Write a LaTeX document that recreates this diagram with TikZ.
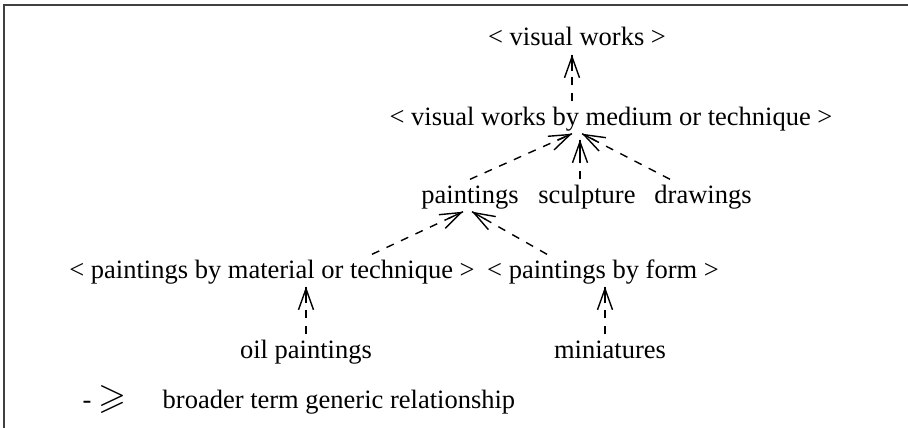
\documentclass[tikz,border=0pt]{standalone}
\usepackage{amssymb}
\usepackage{fontspec}
\setmainfont{Liberation Serif}
\usetikzlibrary{arrows.meta,decorations.markings}

\begin{document}
\begin{tikzpicture}[x=1pt,y=-1pt,line width=1.4pt,
    term/.style={anchor=base, inner xsep=0pt, inner ysep=4pt, text height=19pt, text depth=4pt, font=\fontsize{26.5}{30}\selectfont},
    bt/.style={dash pattern=on 8pt off 8pt, -{Straight Barb[length=21pt,width=15pt,line width=1.4pt]},
        postaction={decorate}, decoration={markings, mark=at position 1 with {\draw[solid,-] (-16pt,0) -- (0,0);}}}]
    \useasboundingbox (0,0) rectangle (908,428);
    \draw[line width=2pt, black!75] (4,428) -- (4,5) -- (908,5);

    \node[term] (vw) at (577,46) {< visual works >};
    \node[term] (vwmt) at (611,125) {< visual works by medium or technique >};
    \node[term] (paint) at (470,203) {paintings};
    \node[term] (sculp) at (587,203) {sculpture};
    \node[term] (drawg) at (703,203) {drawings};
    \node[term] (pmt) at (272,278) {< paintings by material or technique >};
    \node[term] (pbf) at (603,278) {< paintings by form >};
    \node[term] (oil) at (306,358) {oil paintings};
    \node[term] (mini) at (610,358) {miniatures};

    \draw[bt] ([xshift=-5pt]vwmt.north -| vw.south) -- ([xshift=-5pt]vw.south);

    \draw[bt] (paint.north) -- ([xshift=-39pt]vwmt.south);
    \draw[bt] ([xshift=-7pt]sculp.north) -- ([xshift=-7pt,yshift=-6pt]sculp.north |- vwmt.south);
    \draw[bt] ([xshift=-33pt]drawg.north) -- ([xshift=-29pt]vwmt.south);

    \draw[bt] ([xshift=100pt]pmt.north) -- ([xshift=-7pt]paint.south);
    \draw[bt] ([xshift=-56pt]pbf.north) -- ([xshift=2pt]paint.south);

    \draw[bt] (oil.north) -- (oil.north |- pmt.south);
    \draw[bt] ([xshift=-5pt]mini.north) -- ([xshift=-5pt]mini.north |- pbf.south);

    % key
    \node[term, anchor=base west] (key) at (82,408) {-~{\fontsize{36}{36}\selectfont\(\geqslant\)}};
    \node[term, anchor=base west] (keytext) at (162,408) {broader term generic relationship};
\end{tikzpicture}
\end{document}
